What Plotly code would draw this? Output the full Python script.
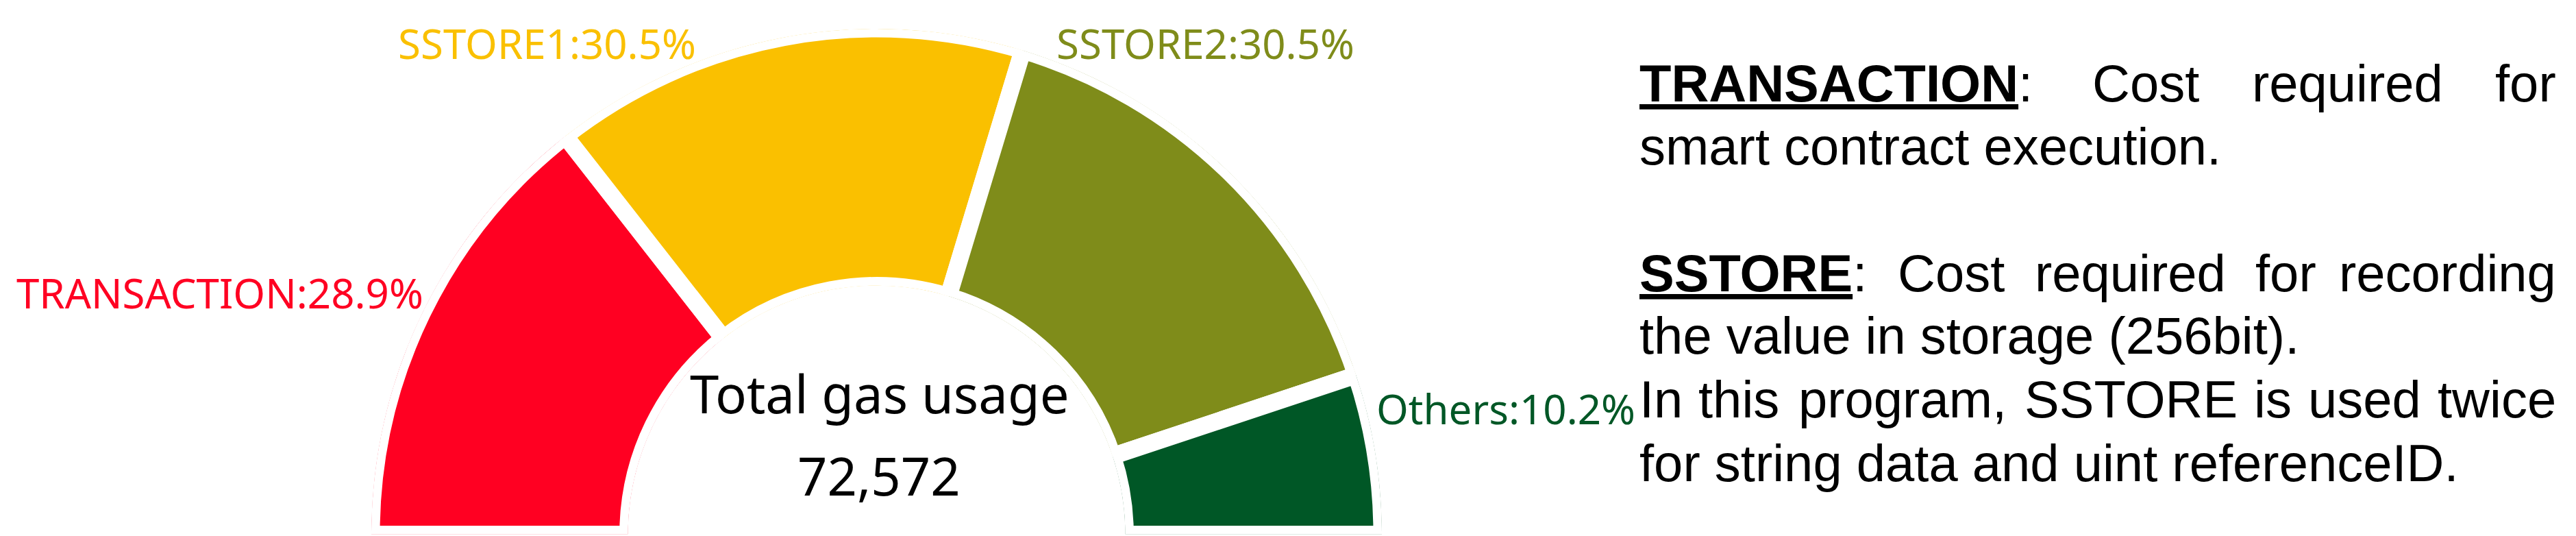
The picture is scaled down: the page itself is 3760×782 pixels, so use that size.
import plotly.graph_objects as go

# gas usage breakdown (percent of total)
labels = ["TRANSACTION", "SSTORE1", "SSTORE2", "Others"]
shares = [28.9, 30.5, 30.5, 10.2]
colors = ["#FF0022", "#FAC000", "#7F8C1A", "#005726"]
total_gas = 72572

# explanation text on the right, one list per line (words of justified lines split)
note_lines = [
    ["<b><u>TRANSACTION</u></b>:", "Cost", "required", "for"],
    ["smart contract execution."],
    ["<b><u>SSTORE</u></b>:", "Cost", "required", "for", "recording"],
    ["the value in storage (256bit)."],
    ["In", "this", "program,", "SSTORE", "is", "used", "twice"],
    ["for string data and uint referenceID."],
]

W, H = 3760, 782


def px(x):
    return x / W


def py(y):
    return 1 - y / H


# half doughnut: 100% spread over 180 degrees
total = sum(shares)
widths = [s / total * 180 for s in shares]
centers = []
acc = 0
for w in widths:
    centers.append(acc + w / 2)
    acc += w

fig = go.Figure()
fig.add_trace(go.Barpolar(
    r=[1] * len(shares),
    theta=centers,
    width=widths,
    marker=dict(color=colors, line=dict(color="white", width=25)),
    hoverinfo="skip",
))

# slice labels (pixel positions, y = middle of capitals)
label_pos = [(612, 419, "right"), (790, 55, "center"), (1751, 55, "center"), (1999, 588, "left")]
annotations = []
for lab, s, c, (x, y, anc) in zip(labels, shares, colors, label_pos):
    annotations.append(dict(
        text=f"{lab}:{s}%", x=px(x), y=py(y), xref="paper", yref="paper",
        xanchor=anc, yanchor="middle", showarrow=False,
        font=dict(family="Noto Sans", size=60, color=c),
    ))

# centre text
annotations.append(dict(text="Total gas usage", x=px(1276), y=py(565), xref="paper", yref="paper",
                        xanchor="center", yanchor="middle", showarrow=False,
                        font=dict(family="Noto Sans", size=76, color="black")))
annotations.append(dict(text=f"{total_gas:,}", x=px(1275), y=py(685), xref="paper", yref="paper",
                        xanchor="center", yanchor="middle", showarrow=False,
                        font=dict(family="Noto Sans", size=76, color="black")))

# right-hand notes, justified lines placed word by word
left, right = 2383, 3725
line_y = [114, 205, 390, 482, 574, 667]
word_x = {
    0: [2383, 3044, 3277],
    2: [2383, 2760, 2960, 3282],
    4: [2383, 2469, 2615, 2945, 3280, 3359],
}
note_font = dict(family="Liberation Sans, Arial", size=76, color="black")
for i, (words, y) in enumerate(zip(note_lines, line_y)):
    if i in word_x:
        for w, x in zip(words[:-1], word_x[i]):
            annotations.append(dict(text=w, x=px(x), y=py(y), xref="paper", yref="paper",
                                    xanchor="left", yanchor="middle", showarrow=False, font=note_font))
        annotations.append(dict(text=words[-1], x=px(right), y=py(y), xref="paper", yref="paper",
                                xanchor="right", yanchor="middle", showarrow=False, font=note_font))
    else:
        annotations.append(dict(text=" ".join(words), x=px(left), y=py(y), xref="paper", yref="paper",
                                xanchor="left", yanchor="middle", showarrow=False, font=note_font))

fig.update_layout(
    width=W, height=H,
    margin=dict(l=0, r=0, t=0, b=0),
    paper_bgcolor="white",
    showlegend=False,
    annotations=annotations,
    polar=dict(
        domain=dict(x=[px(534), px(2009)], y=[py(771.5), py(34)]),
        sector=[0, 180],
        hole=0.492,
        bgcolor="white",
        radialaxis=dict(range=[0, 1], visible=False),
        angularaxis=dict(rotation=180, direction="clockwise", visible=False),
    ),
)

fig.write_html("out.html")
